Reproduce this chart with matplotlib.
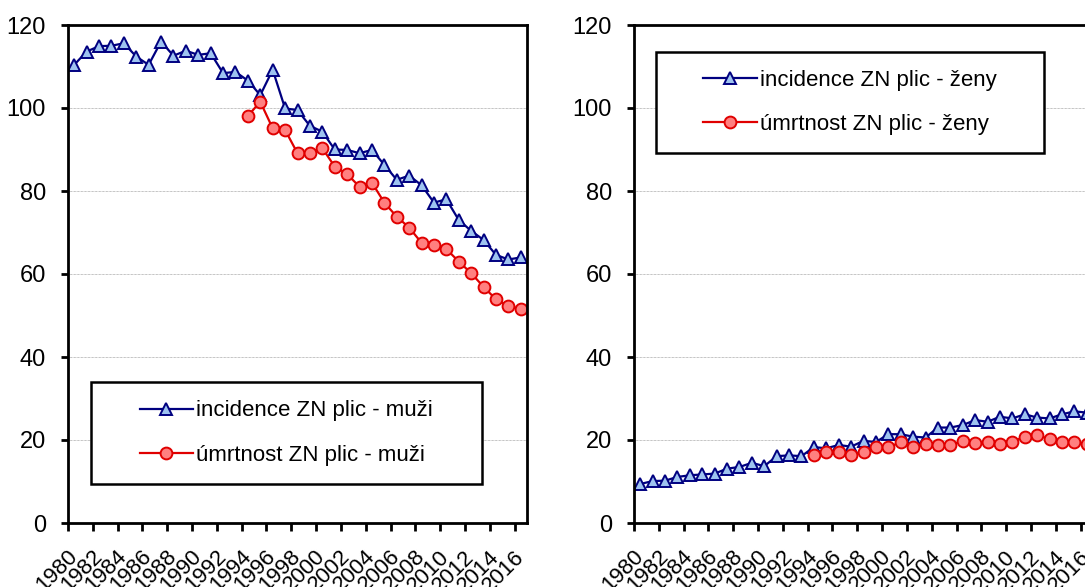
import numpy as np
import matplotlib
matplotlib.use('Agg')
import matplotlib.pyplot as plt
from matplotlib.patches import Rectangle

plt.rcParams['font.family'] = ['Liberation Sans Narrow', 'Liberation Sans', 'DejaVu Sans']

roky = list(range(1980, 2017))
roky_umrt = list(range(1994, 2017))

# muzi
incidence_muzi = [110.4, 113.6, 114.9, 115.0, 115.6, 112.4, 110.4, 116.0, 112.6, 113.8,
                  112.8, 113.2, 108.4, 108.7, 106.6, 103.1, 109.2, 99.9, 99.5, 95.7,
                  94.3, 90.0, 89.9, 89.1, 89.9, 86.3, 82.7, 83.7, 81.4, 77.2,
                  78.0, 73.0, 70.4, 68.2, 64.6, 63.5, 64.0]
umrtnost_muzi = [98.1, 101.5, 95.1, 94.7, 89.1, 89.1, 90.3, 85.9, 84.1, 81.0,
                 82.0, 77.2, 73.8, 71.2, 67.5, 67.0, 66.0, 63.0, 60.2, 56.9,
                 53.9, 52.3, 51.6]

# zeny
incidence_zeny = [9.4, 10.1, 10.2, 11.1, 11.5, 11.7, 11.9, 13.1, 13.5, 14.5,
                  13.7, 16.1, 16.3, 16.1, 18.3, 18.0, 18.8, 18.4, 19.8, 19.5,
                  21.4, 21.4, 20.8, 20.6, 23.0, 23.0, 23.6, 24.8, 24.4, 25.6,
                  25.2, 26.2, 25.4, 25.2, 26.2, 26.9, 26.6]
umrtnost_zeny = [16.3, 17.1, 17.1, 16.3, 17.1, 18.4, 18.3, 19.4, 18.3, 19.0,
                 18.7, 18.8, 19.8, 19.2, 19.4, 19.0, 19.6, 20.8, 21.2, 20.2,
                 19.6, 19.5, 19.1]

W, H = 1085, 587
fig = plt.figure(figsize=(W/100, H/100), dpi=100)

def graf(x0, inc, umr, popisky, box):
    ax = fig.add_axes([x0/W, 1-523/H, 459/W, (523-25)/H])
    xi = np.arange(len(roky))
    xu = np.array([roky.index(r) for r in roky_umrt])
    l1, = ax.plot(xi, inc, color='#000080', lw=1.6, marker='^', ms=9,
                  mfc='#9EC3F0', mec='#000080', mew=1.4, label=popisky[0])
    l2, = ax.plot(xu, umr, color='#E00000', lw=1.6, marker='o', ms=8.5,
                  mfc='#FF8080', mec='#E00000', mew=1.4, label=popisky[1])
    ax.set_xlim(-0.5, len(roky)-0.5)
    ax.set_ylim(0, 120)
    ax.set_yticks(range(0, 121, 20))
    ax.grid(axis='y', color='#888888', ls=(0, (1, 1)), lw=0.5)
    for s in ax.spines.values():
        s.set_linewidth(2)
    ax.tick_params(axis='y', length=5, width=2, pad=11, labelsize=17)
    ax.set_xticks(xi[::2])
    ax.set_xticklabels([str(r) for r in roky[::2]], rotation=45, ha='right',
                       va='center', rotation_mode='anchor', fontsize=16)
    ax.tick_params(axis='x', length=0, pad=22)
    ax.set_xticks(np.arange(-0.5, len(roky)-1, 2), minor=True)
    ax.tick_params(axis='x', which='minor', length=6, width=2)
    bx0, by0, bx1, by1 = box
    fig.patches.append(Rectangle((bx0/W, 1-by1/H), (bx1-bx0)/W, (by1-by0)/H,
                                 transform=fig.transFigure, fill=True, fc='white',
                                 ec='black', lw=1.8, zorder=5))
    leg = fig.legend(handles=[l1, l2], loc='center',
                     bbox_to_anchor=((bx0+bx1)/2/W, 1-(by0+by1)/2/H),
                     frameon=False, fontsize=16, handlelength=2.4,
                     handletextpad=0.15, labelspacing=1.05)
    leg.set_zorder(6)
    return ax

graf(68, incidence_muzi, umrtnost_muzi,
     ['incidence ZN plic - muži', 'úmrtnost ZN plic - muži'], (91, 382, 482, 484))
graf(634, incidence_zeny, umrtnost_zeny,
     ['incidence ZN plic - ženy', 'úmrtnost ZN plic - ženy'], (656, 52, 1044, 153))

plt.savefig('out.png', dpi=100)
